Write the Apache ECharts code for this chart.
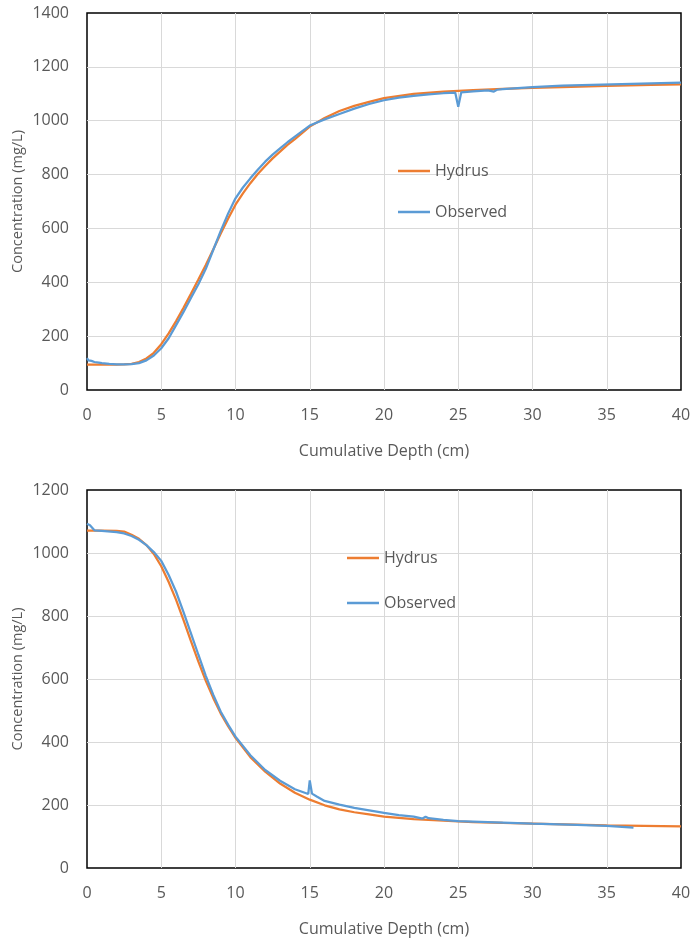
<!DOCTYPE html>
<html>
<head>
<meta charset="utf-8">
<script src="https://cdn.jsdelivr.net/npm/echarts@6/dist/echarts.min.js"></script>
<style>
html,body{margin:0;padding:0;background:#fff;}
#main{width:694px;height:940px;}
</style>
</head>
<body>
<div id="main"></div>
<script>
// ---------- Data ----------
const seriesNames = ['Hydrus', 'Observed'];
const xAxisTitle = 'Cumulative Depth (cm)';
const yAxisTitle = 'Concentration (mg/L)';
const xTicks = [0, 5, 10, 15, 20, 25, 30, 35, 40];
const yTicksTop = [0, 200, 400, 600, 800, 1000, 1200, 1400];
const yTicksBottom = [0, 200, 400, 600, 800, 1000, 1200];

// Top chart (breakthrough)
const hydrusTopX = [0,1,2,2.5,3,3.5,4,4.5,5,5.5,6,6.5,7,7.5,8,8.5,9,9.5,10,10.5,11,11.5,12,12.5,13,13.5,14,15,16,17,18,19,20,22,24,26,28,30,32,35,38,40];
const hydrusTopY = [94,94,94,95,97,104,117,138,170,210,256,305,357,410,464,522,580,636,688,730,768,802,832,860,885,910,932,978,1010,1036,1055,1070,1084,1100,1108,1114,1118,1122,1125,1129,1133,1135];
const observedTopX = [0,0.1,0.2,0.3,0.5,0.8,1,1.5,2,2.5,3,3.5,4,4.5,5,5.5,6,6.5,7,7.5,8,8.5,9,9.5,10,10.5,11,11.5,12,12.5,13,13.5,14,15,16,17,18,19,20,21,22,23,24,24.8,25,25.2,26,27,27.4,27.6,28,30,32,34,36,38,40];
const observedTopY = [118,110,115,108,104,102,100,97,95,95,96,100,110,128,155,192,241,290,342,393,450,520,590,655,712,752,786,818,848,874,897,920,941,982,1005,1025,1045,1062,1076,1086,1092,1098,1102,1104,1052,1105,1109,1113,1108,1115,1117,1125,1130,1133,1136,1139,1141];

// Bottom chart (elution)
const hydrusBottomX = [0,1,2,2.5,3,3.5,4,4.5,5,5.5,6,6.5,7,7.5,8,8.5,9,9.5,10,11,12,13,14,15,16,17,18,19,20,22,24,26,28,30,35,40];
const hydrusBottomY = [1071,1071,1070,1068,1058,1045,1025,997,958,908,851,787,720,655,594,540,491,450,413,352,306,268,239,217,199,186,177,170,163,155,150,146,143,141,135,132];
const observedBottomX = [0,0.2,0.5,1,2,2.5,3,3.5,4,4.5,5,5.5,6,6.5,7,7.5,8,8.5,9,9.5,10,11,12,13,14,14.9,15,15.15,15.5,16,17,18,19,20,21,22,22.6,22.8,23,24,25,27,30,33,35,36.8];
const observedBottomY = [1093,1088,1072,1070,1066,1062,1054,1042,1025,1003,975,930,877,812,745,677,610,550,497,455,417,358,311,277,250,235,278,236,226,213,201,191,183,175,168,163,157,163,158,153,149,146,141,137,134,128];

// ---------- Build ----------
const zip = (xs, ys) => xs.map((x, i) => [x, ys[i]]);
const FONT = 'Open Sans';
const TXT = '#595959';
const ORANGE = '#ED7D31';
const BLUE = '#5B9BD5';

function xAxisCfg(gridIndex) {
  return {
    type: 'value', gridIndex, min: xTicks[0], max: xTicks[xTicks.length - 1], interval: 5,
    name: xAxisTitle, nameLocation: 'middle', nameGap: 53, nameMoveOverlap: false,
    nameTextStyle: { color: TXT, fontFamily: FONT, fontSize: 16 },
    axisLine: { show: false }, axisTick: { show: false },
    axisLabel: { color: TXT, fontFamily: FONT, fontSize: 16, margin: 17, formatter: v => String(v) },
    splitLine: { show: true, showMinLine: false, showMaxLine: false, lineStyle: { color: '#d9d9d9', width: 1 } }
  };
}
function yAxisCfg(gridIndex, ticks) {
  return {
    type: 'value', gridIndex, min: ticks[0], max: ticks[ticks.length - 1], interval: 200,
    name: yAxisTitle, nameLocation: 'middle', nameGap: 62, nameMoveOverlap: false,
    nameTextStyle: { color: TXT, fontFamily: FONT, fontSize: 14.5 },
    axisLine: { show: false }, axisTick: { show: false },
    axisLabel: { color: TXT, fontFamily: FONT, fontSize: 16, margin: 18, formatter: v => String(v) },
    splitLine: { show: true, showMinLine: false, showMaxLine: false, lineStyle: { color: '#d9d9d9', width: 1 } }
  };
}
function lineSeries(name, data, color, idx) {
  return {
    name, type: 'line', xAxisIndex: idx, yAxisIndex: idx, data,
    showSymbol: false, smooth: false,
    lineStyle: { color, width: 2.25 }, itemStyle: { color },
    animation: false
  };
}
function legendCfg(left, top, gap) {
  return {
    data: seriesNames, orient: 'vertical', left, top, itemGap: gap, padding: 0,
    icon: 'rect', itemWidth: 32, itemHeight: 2.5,
    textStyle: { color: TXT, fontFamily: FONT, fontSize: 16 },
    selectedMode: false
  };
}

const chart = echarts.init(document.getElementById('main'), null, { renderer: 'canvas' });
chart.setOption({
  backgroundColor: '#fff',
  animation: false,
  grid: [
    { left: 87, top: 13, width: 594, height: 377, show: true, borderColor: '#000', borderWidth: 1.5, backgroundColor: '#fff', containLabel: false, outerBoundsMode: 'none' },
    { left: 87, top: 490, width: 594, height: 378, show: true, borderColor: '#000', borderWidth: 1.5, backgroundColor: '#fff', containLabel: false, outerBoundsMode: 'none' }
  ],
  xAxis: [xAxisCfg(0), xAxisCfg(1)],
  yAxis: [yAxisCfg(0, yTicksTop), yAxisCfg(1, yTicksBottom)],
  legend: [legendCfg(398, 163, 25), legendCfg(347, 550, 29)],
  series: [
    lineSeries(seriesNames[0], zip(hydrusTopX, hydrusTopY), ORANGE, 0),
    lineSeries(seriesNames[1], zip(observedTopX, observedTopY), BLUE, 0),
    lineSeries(seriesNames[0], zip(hydrusBottomX, hydrusBottomY), ORANGE, 1),
    lineSeries(seriesNames[1], zip(observedBottomX, observedBottomY), BLUE, 1)
  ]
});
</script>
</body>
</html>
